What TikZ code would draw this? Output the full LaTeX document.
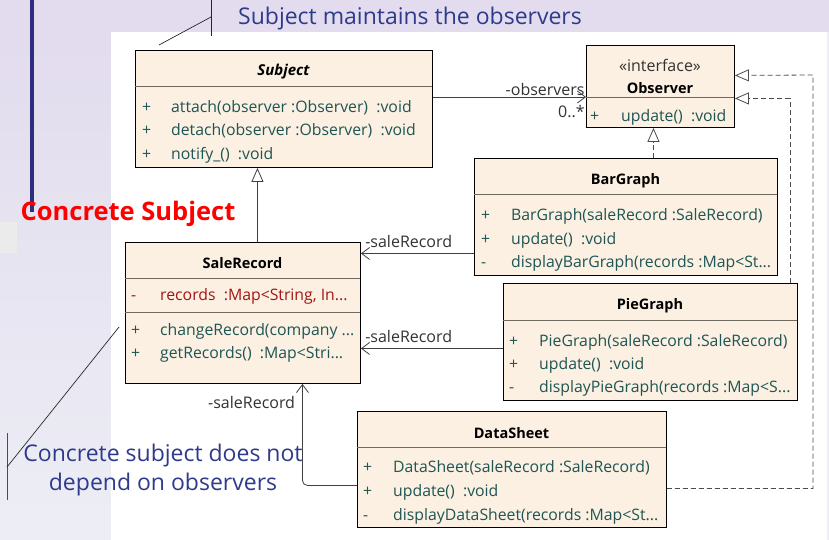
\documentclass[tikz,border=0pt]{standalone}
\usepackage{fontspec}
\setmainfont{Open Sans}
\usetikzlibrary{arrows.meta}

\definecolor{bandcol}{HTML}{E2DCEE}
\definecolor{stripbot}{HTML}{EDEEF5}
\definecolor{navy}{HTML}{2E3A8C}
\definecolor{barcol}{HTML}{2E2E80}
\definecolor{clsfill}{HTML}{FBF0E1}
\definecolor{opcol}{HTML}{1E5555}
\definecolor{attrcol}{HTML}{A31515}
\definecolor{divcol}{HTML}{6F6A60}
\definecolor{lblcol}{HTML}{333333}

\tikzset{
  cls/.style={draw=black, fill=clsfill, line width=0.9pt, anchor=north west, inner sep=0pt},
  ttl/.style={font=\fontsize{14.5}{16}\selectfont\bfseries, text=black},
  op/.style={anchor=west, inner sep=0pt, text=opcol, font=\fontsize{15.8}{18}\selectfont},
  attr/.style={op, text=attrcol},
  divider/.style={draw=divcol, line width=1pt},
  lbl/.style={text=lblcol, font=\fontsize{16}{18}\selectfont, inner sep=1pt},
  nav/.style={draw=black!75, line width=0.8pt, -{Straight Barb[length=8pt, width=12pt, line width=0.8pt]}},
  gen/.style={draw=black!75, line width=0.8pt, -{Triangle[open, length=14pt, width=12pt, fill=white, line width=0.8pt]}},
  real/.style={gen, draw=black!70, dash pattern=on 5pt off 3pt},
  note/.style={text=navy, font=\fontsize{23}{29}\selectfont, align=center},
  pointer/.style={draw=black!85, line width=0.7pt}
}

\begin{document}
\begin{tikzpicture}[x=1pt, y=-1pt]
\useasboundingbox (0,0) rectangle (829,540);

% slide background
\fill[bandcol] (0,0) rectangle (829,32);
\shade[top color=bandcol, bottom color=stripbot] (0,32) rectangle (111,540);
\fill[stripbot] (827,32) rectangle (829,540);
\fill[white] (111,32) rectangle (827,540);
\fill[black!8] (0,222) rectangle (17,253);
\fill[barcol] (30,0) rectangle (34,212);

% classes
\node[cls, minimum width=297, minimum height=117] (subj) at (135,50) {};
\node[ttl, font=\fontsize{15}{17}\selectfont\bfseries\itshape] (subjT) at (283.5,72) {Subject};
\draw[divider] (135,87) -- (432,87);
\node[op] (subj1) at (142,108) {\makebox[29pt][l]{+}attach(observer :Observer)\ \ :void};
\node[op] (subj2) at (142,131) {\makebox[29pt][l]{+}detach(observer :Observer)\ \ :void};
\node[op] (subj3) at (142,155) {\makebox[29pt][l]{+}notify\_()\ \ :void};

\node[cls, minimum width=148, minimum height=82] (obs) at (586,45) {};
\node[lbl, text=black!80] (obsS) at (660,65) {«interface»};
\node[ttl] (obsT) at (660,88) {Observer};
\draw[divider] (586,98) -- (734,98);
\node[op] (obs1) at (590,117) {\makebox[31pt][l]{+}update()\ \ :void};

\node[cls, minimum width=303, minimum height=117] (bar) at (474,158) {};
\node[ttl] (barT) at (625.5,181) {BarGraph};
\draw[divider] (474,194) -- (777,194);
\node[op] (bar1) at (481,216) {\makebox[30pt][l]{+}BarGraph(saleRecord :SaleRecord)};
\node[op] (bar2) at (481,240) {\makebox[30pt][l]{+}update()\ \ :void};
\node[op] (bar3) at (481,263) {\makebox[30pt][l]{-}displayBarGraph(records :Map<St...};

\node[cls, minimum width=294, minimum height=117] (pie) at (503,283) {};
\node[ttl] (pieT) at (650,306) {PieGraph};
\draw[divider] (503,320) -- (797,320);
\node[op] (pie1) at (509,342) {\makebox[30pt][l]{+}PieGraph(saleRecord :SaleRecord)};
\node[op] (pie2) at (509,365) {\makebox[30pt][l]{+}update()\ \ :void};
\node[op] (pie3) at (509,388) {\makebox[30pt][l]{-}displayPieGraph(records :Map<S...};

\node[cls, minimum width=235, minimum height=141] (sale) at (125,242) {};
\node[ttl] (saleT) at (242.5,263) {SaleRecord};
\draw[divider] (125,278) -- (360,278);
\node[attr] (sale0) at (131,296) {\makebox[29pt][l]{-}records\ \ :Map<String, In...};
\draw[divider] (125,312) -- (360,312);
\node[op] (sale1) at (131,331) {\makebox[29pt][l]{+}changeRecord(company ...};
\node[op] (sale2) at (131,354) {\makebox[29pt][l]{+}getRecords()\ \ :Map<Stri...};

\node[cls, minimum width=309, minimum height=116] (ds) at (357,411) {};
\node[ttl] (dsT) at (511.5,433) {DataSheet};
\draw[divider] (357,447) -- (666,447);
\node[op] (ds1) at (363,468) {\makebox[30pt][l]{+}DataSheet(saleRecord :SaleRecord)};
\node[op] (ds2) at (363,492) {\makebox[30pt][l]{+}update()\ \ :void};
\node[op] (ds3) at (363,516) {\makebox[30pt][l]{-}displayDataSheet(records :Map<St...};

% relations
\draw[nav] ([yshift=-47pt]subj.north east) -- ([yshift=-52pt]obs.north west)
  node[lbl, above left, pos=1] {-observers}
  node[lbl, below left, pos=1, yshift=-7pt] {0..*};
\draw[gen] ([xshift=14.5pt]sale.north) -- ([xshift=14.5pt]sale.north |- subj.south);
\draw[real] ([xshift=-7pt]obs.south |- bar.north) -- ([xshift=-7pt]obs.south);
\draw[nav] ([yshift=-36.5pt]bar.west) -- ([yshift=-36.5pt]bar.west -| sale.east)
  node[lbl, above right, pos=1, xshift=3pt, yshift=4pt] {-saleRecord};
\draw[nav] ([yshift=-6.5pt]pie.west) -- ([yshift=-6.5pt]pie.west -| sale.east)
  node[lbl, above right, pos=1, xshift=3pt, yshift=4pt] {-saleRecord};
\draw[nav, rounded corners=5pt] ([yshift=-16pt]ds.west) -| ([xshift=59.5pt]sale.south)
  node[lbl, below left, pos=1, xshift=-6pt, yshift=-11pt] {-saleRecord};
\draw[real] ([xshift=-8pt]pie.north east) |- ([yshift=-12pt]obs.east);
\coordinate (rt) at (813,75);
\draw[real] ([yshift=-19pt]ds.east) -| (rt) -- ([yshift=11pt]obs.east);

% slide annotations
\node[note] (noteTop) at (410,19) {Subject maintains the observers};
\draw[pointer] (211,0) -- (211,36);
\draw[pointer] (211,17) -- (159,45);
\node[text=red, font=\fontsize{25.5}{28}\selectfont\bfseries] (concT) at (128,214) {Concrete Subject};
\node[note] (noteBot) at (163,470) {Concrete subject does not\\depend on observers};
\draw[pointer, black!70] (7,433) -- (7,500);
\draw[pointer] (119,327) -- (7,467);

\end{tikzpicture}
\end{document}
